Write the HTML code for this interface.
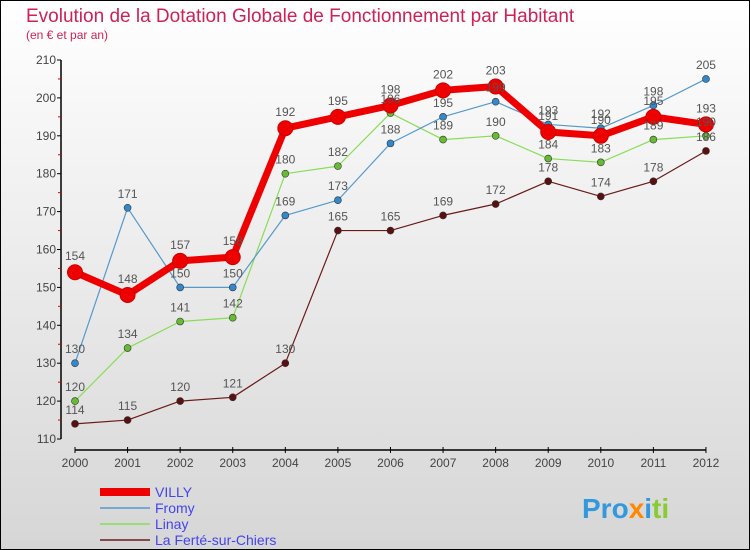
<!DOCTYPE html>
<html><head><meta charset="utf-8"><style>
body{margin:0;width:750px;height:550px;overflow:hidden;font-family:"Liberation Sans",sans-serif}
svg{display:block}
</style></head><body>
<svg id="c" width="750" height="550" xmlns="http://www.w3.org/2000/svg">
<defs><linearGradient id="bg" x1="0" y1="0" x2="0" y2="1"><stop offset="0" stop-color="#ffffff"/><stop offset="1" stop-color="#d6d6d6"/></linearGradient></defs>
<rect x="0.5" y="0.5" width="749" height="549" fill="url(#bg)" stroke="#000"/>
<text x="26" y="22" font-size="19" fill="#cc2255">Evolution de la Dotation Globale de Fonctionnement par Habitant</text>
<text x="26" y="39" font-size="12" fill="#cc2255">(en € et par an)</text>
<g id="grid"></g><g id="series"></g><g id="labels"></g>
<g id="legend"></g>
<text x="582" y="518" font-size="28" font-weight="bold"><tspan fill="#3399dd">Pro</tspan><tspan fill="#ff8800">x</tspan><tspan fill="#3399dd">i</tspan><tspan fill="#88cc33">ti</tspan></text>
</svg>
<script>
const years=["2000","2001","2002","2003","2004","2005","2006","2007","2008","2009","2010","2011","2012"];
const yTicks=[110,120,130,140,150,160,170,180,190,200,210];
const villy=[154,148,157,158,192,195,198,202,203,191,190,195,193];
const fromy=[130,171,150,150,169,173,188,195,199,193,192,198,205];
const linay=[120,134,141,142,180,182,196,189,190,184,183,189,190];
const ferte=[114,115,120,121,130,165,165,169,172,178,174,178,186];
const seriesNames=["VILLY","Fromy","Linay","La Ferté-sur-Chiers"];
const NS="http://www.w3.org/2000/svg";
const X=i=>75+i*52.58, Y=v=>439-(v-110)*3.79;
function mk(t,a,p){const e=document.createElementNS(NS,t);for(const k in a)e.setAttribute(k,a[k]);p.appendChild(e);return e;}
const g=document.getElementById('grid');
const ya=mk('line',{x1:61,y1:Y(210),x2:61,y2:Y(110),stroke:'#000','stroke-width':1.5},g);


const xa=mk('line',{x1:X(0),y1:450,x2:X(12),y2:450,stroke:'#000','stroke-width':1.5},g);


yTicks.forEach((v,i)=>{
 mk('line',{x1:57,y1:Y(v),x2:61,y2:Y(v),stroke:'#000'},g);
 if(i<yTicks.length-1){mk('line',{x1:58,y1:Y(v+5),x2:61,y2:Y(v+5),stroke:'#dd0000'},g);}
 const t=mk('text',{x:56,y:Y(v)+4,'font-size':12,fill:'#444','text-anchor':'end'},g);t.textContent=v;
 
 
});
years.forEach((y,i)=>{
 mk('line',{x1:X(i),y1:447,x2:X(i),y2:453,stroke:'#000'},g);
 const t=mk('text',{x:X(i),y:467,'font-size':12,fill:'#444','text-anchor':'middle'},g);t.textContent=y;
 
 
});
const S=document.getElementById('series'),L=document.getElementById('labels');
const defs=[[ferte,'#6b1a1a','#5a1010',1.2,3.5],[linay,'#88dd55','#66bb33',1.2,3.5],[fromy,'#5599cc','#3388cc',1.2,3.5],[villy,'#ee0000','#ee0000',7,7.5]];
const nm=['series-ferte','series-linay','series-fromy','series-villy'];
defs.forEach((d,k)=>{
 const [data,lc,pc,w,r]=d;
 const p=mk('polyline',{points:data.map((v,i)=>X(i)+','+Y(v)).join(' '),fill:'none',stroke:lc,'stroke-width':w,'stroke-linejoin':'round'},S);
 
 
 data.forEach((v,i)=>{
  const c=mk('circle',{cx:X(i),cy:Y(v),r:r,fill:pc,stroke:k==3?'#cc0000':'#333','stroke-width':k==3?1:0.6},S);
  
  
  const t=mk('text',{x:X(i),y:Y(v)-(k==3?12:10),'font-size':12,fill:'#555','text-anchor':'middle'},L);t.textContent=v;
  
  
 });
});
const lg=document.getElementById('legend');
const lcol=['#ee0000','#5599cc','#88dd55','#6b1a1a'],lw=[8,1.5,1.5,1.5];
seriesNames.forEach((n,i)=>{
 const y=492+i*16;
 const l=mk('line',{x1:100,y1:y,x2:150,y2:y,stroke:lcol[i],'stroke-width':lw[i]},lg);
 
 
 const t=mk('text',{x:155,y:y+5,'font-size':14,fill:'#4444ee'},lg);t.textContent=n;
 
 
});
</script>
</body></html>
